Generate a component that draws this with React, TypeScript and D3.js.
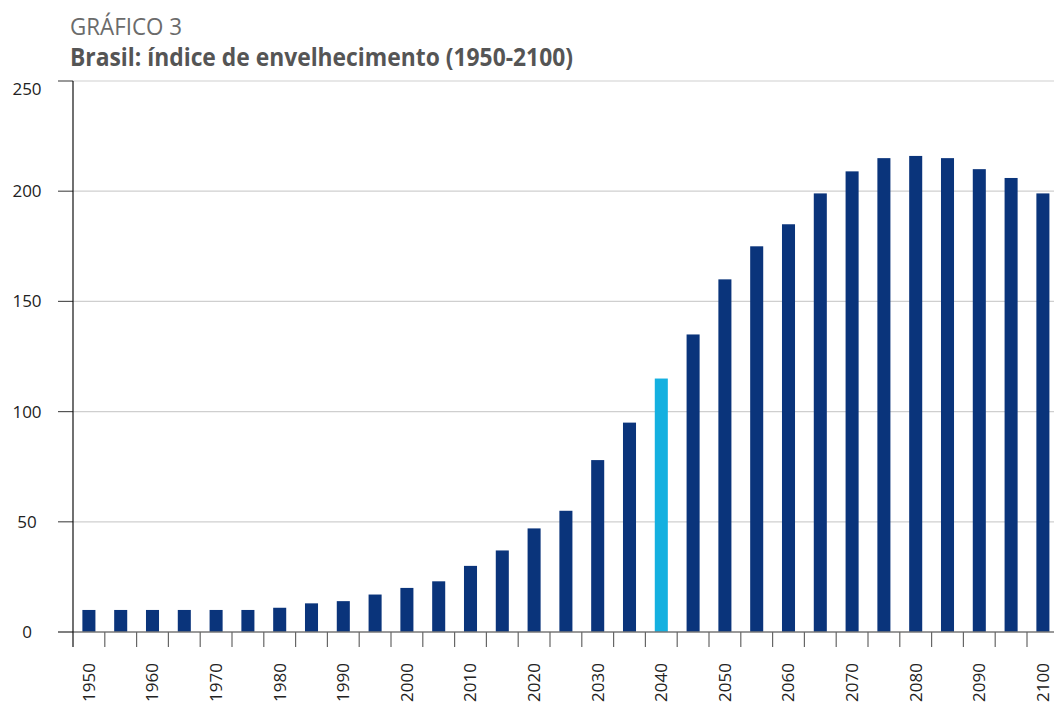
import { useRef, useEffect } from "react";
import * as d3 from "d3";

// Índice de envelhecimento, 1950-2100 (quinquenal)
const years = [
  1950, 1955, 1960, 1965, 1970, 1975, 1980, 1985, 1990, 1995, 2000, 2005, 2010, 2015, 2020, 2025,
  2030, 2035, 2040, 2045, 2050, 2055, 2060, 2065, 2070, 2075, 2080, 2085, 2090, 2095, 2100,
];
const values = [
  10, 10, 10, 10, 10, 10, 11, 13, 14, 17, 20, 23, 30, 37, 47, 55,
  78, 95, 115, 135, 160, 175, 185, 199, 209, 215, 216, 215, 210, 206, 199,
];
const highlightYear = 2040;
const yTicks = [0, 50, 100, 150, 200, 250];
const labelYears = years.filter((y) => y % 10 === 0);

const title = "Brasil: índice de envelhecimento (1950-2100)";
const kicker = "GRÁFICO 3";

export default function App() {
  const svgRef = useRef<SVGSVGElement>(null);

  useEffect(() => {
    const width = 1054;
    const height = 704;
    const left = 73;
    const top = 81;
    const bottom = 632;
    const bandW = 31.8;

    const svg = d3.select(svgRef.current);
    svg.selectAll("*").remove();

    const x = d3
      .scaleBand<number>()
      .domain(years)
      .range([left, left + bandW * years.length])
      .paddingInner(0.59)
      .paddingOuter(0.295);
    const y = d3.scaleLinear().domain([0, 250]).range([bottom, top]);

    // Titles
    svg
      .append("text")
      .attr("x", 70)
      .attr("y", 35)
      .attr("fill", "#6b6b6b")
      .attr("font-family", "'Open Sans', sans-serif")
      .attr("font-size", "23px")
      .attr("textLength", 112)
      .attr("lengthAdjust", "spacingAndGlyphs")
      .text(kicker);

    svg
      .append("text")
      .attr("x", 70)
      .attr("y", 66)
      .attr("fill", "#555555")
      .attr("font-family", "'Open Sans', sans-serif")
      .attr("font-weight", "bold")
      .attr("font-size", "25px")
      .attr("textLength", 503)
      .attr("lengthAdjust", "spacingAndGlyphs")
      .text(title);

    // Gridlines
    svg
      .append("g")
      .selectAll("line")
      .data(yTicks.filter((d) => d > 0))
      .enter()
      .append("line")
      .attr("x1", left)
      .attr("x2", width)
      .attr("y1", (d) => y(d))
      .attr("y2", (d) => y(d))
      .attr("stroke", "#cfcfcf")
      .attr("stroke-width", 1.2);

    // Bars
    svg
      .append("g")
      .selectAll("rect")
      .data(years)
      .enter()
      .append("rect")
      .attr("x", (d) => x(d)!)
      .attr("width", x.bandwidth())
      .attr("y", (_, i) => y(values[i]))
      .attr("height", (_, i) => bottom - y(values[i]))
      .attr("fill", (d) => (d === highlightYear ? "#14b0e0" : "#0a347b"));

    // Y axis ticks + labels
    const yAxis = svg.append("g");
    yAxis
      .selectAll("line")
      .data(yTicks)
      .enter()
      .append("line")
      .attr("x1", 58)
      .attr("x2", left)
      .attr("y1", (d) => y(d))
      .attr("y2", (d) => y(d))
      .attr("stroke", "#555")
      .attr("stroke-width", 1.2);
    yAxis
      .selectAll("text")
      .data(yTicks)
      .enter()
      .append("text")
      .attr("x", 27)
      .attr("y", (d) => y(d) + (d === 250 ? 8 : 0))
      .attr("dy", "0.35em")
      .attr("text-anchor", "middle")
      .attr("fill", "#222")
      .attr("font-family", "'Open Sans', sans-serif")
      .attr("font-size", "17px")
      .text((d) => d);

    // Baseline
    svg
      .append("line")
      .attr("x1", 58)
      .attr("x2", width)
      .attr("y1", bottom)
      .attr("y2", bottom)
      .attr("stroke", "#777")
      .attr("stroke-width", 1.5);

    // X ticks at band boundaries
    const bounds = d3.range(years.length + 1).map((i) => left + i * bandW);
    svg
      .append("g")
      .selectAll("line")
      .data(bounds.slice(1))
      .enter()
      .append("line")
      .attr("x1", (d) => d)
      .attr("x2", (d) => d)
      .attr("y1", bottom)
      .attr("y2", 647)
      .attr("stroke", "#666")
      .attr("stroke-width", 1.2);

    // Y axis line
    svg
      .append("line")
      .attr("x1", left)
      .attr("x2", left)
      .attr("y1", top)
      .attr("y2", 647)
      .attr("stroke", "#111")
      .attr("stroke-width", 1.2);

    // X labels
    svg
      .append("g")
      .selectAll("text")
      .data(labelYears)
      .enter()
      .append("text")
      .attr("transform", (d) => `translate(${x(d)! + x.bandwidth() / 2},663) rotate(-90)`)
      .attr("dy", "0.35em")
      .attr("text-anchor", "end")
      .attr("fill", "#222")
      .attr("font-family", "'Open Sans', sans-serif")
      .attr("font-size", "17px")
      .text((d) => d);
  }, []);

  return (
    <svg
      ref={svgRef}
      width={1054}
      height={704}
      style={{ position: "absolute", left: 0, top: 0, background: "#fff" }}
    />
  );
}
